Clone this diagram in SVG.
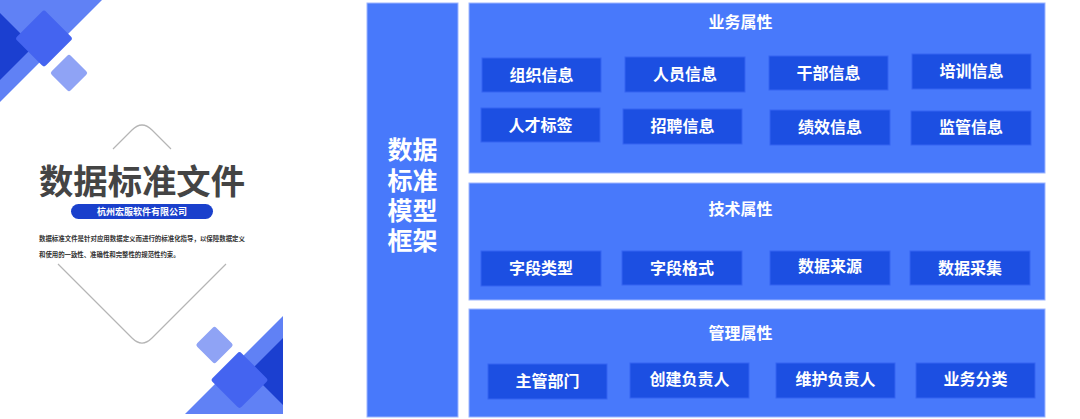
<svg xmlns="http://www.w3.org/2000/svg" width="1080" height="419" viewBox="0 0 1080 419">
<style>
.panel{fill:#4879fb;stroke:#9db6ff;stroke-width:1}
.box{fill:#1c4fe2;stroke:#3565f2;stroke-width:1}
.bt{font-family:"Liberation Serif","Noto Sans CJK SC",serif;font-weight:bold;font-size:16px;fill:#ffffff;text-anchor:middle}
.pt{font-family:"Liberation Serif","Noto Sans CJK SC",serif;font-weight:bold;font-size:16px;fill:#ffffff;text-anchor:middle}
.lt{font-family:"Liberation Serif","Noto Sans CJK SC",serif;font-weight:bold;font-size:25px;fill:#ffffff;text-anchor:middle}
.gray{fill:none;stroke:#b5b5b5;stroke-width:1.2}
</style>
<rect width="1080" height="419" fill="#ffffff"/>
<g id="cover">
  <polygon points="0,0 102,0 0,102" fill="#6081f5"/>
  <polygon points="0,13 33.5,46.5 0,80" fill="#1b3fd0"/>
  <rect x="23.5" y="18" width="41" height="41" rx="3" fill="#4464f0" transform="rotate(45 44 38.5)"/>
  <rect x="55.5" y="59.5" width="27" height="27" rx="2.5" fill="#8fa3f5" transform="rotate(45 69 73)"/>
  <polygon points="185,414 283,414 283,316" fill="#6081f5"/>
  <polygon points="283,338 249.5,371.5 283,405" fill="#1b3fd0"/>
  <rect x="219" y="359.5" width="41" height="41" rx="3" fill="#4464f0" transform="rotate(45 239.5 380)"/>
  <rect x="201" y="331.5" width="27" height="27" rx="2.5" fill="#8fa3f5" transform="rotate(45 214.5 345)"/>
  <path class="gray" d="M113,149 L132,130 Q142,120 152,130 L171,149"/>
  <path class="gray" d="M58,264 L132,338 Q142,348 152,338 L226,264"/>
  <text x="142" y="194" font-family="Liberation Serif,'Noto Sans CJK SC',serif" font-weight="bold" font-size="34" fill="#444444" text-anchor="middle" textLength="206" lengthAdjust="spacingAndGlyphs">数据标准文件</text>
  <rect x="71" y="204" width="142" height="15" rx="7.5" fill="#1a40cc"/>
  <text x="142" y="215" font-family="Liberation Serif,'Noto Sans CJK SC',serif" font-weight="bold" font-size="9" fill="#ffffff" text-anchor="middle">杭州宏服软件有限公司</text>
  <text x="39" y="240.5" font-family="Liberation Serif,'Noto Sans CJK SC',serif" font-weight="bold" font-size="6.4" fill="#333333" textLength="206" lengthAdjust="spacingAndGlyphs">数据标准文件是针对应用数据定义而进行的标准化指导，以保障数据定义</text>
  <text x="39" y="257" font-family="Liberation Serif,'Noto Sans CJK SC',serif" font-weight="bold" font-size="6.4" fill="#333333">和使用的一致性、准确性和完整性的规范性约束。</text>
</g>
<g id="framework">
  <rect class="panel" x="367" y="3" width="91" height="414"/>
  <text class="lt" x="412.5" y="159">数据</text>
  <text class="lt" x="412.5" y="190">标准</text>
  <text class="lt" x="412.5" y="220">模型</text>
  <text class="lt" x="412.5" y="250">框架</text>
</g>
<g id="business">
  <rect class="panel" x="469" y="3" width="576" height="170"/>
  <text class="pt" x="740.5" y="28">业务属性</text>
</g>
<g id="tech">
  <rect class="panel" x="469" y="183" width="576" height="117"/>
  <text class="pt" x="740.5" y="215">技术属性</text>
</g>
<g id="mgmt">
  <rect class="panel" x="469" y="309" width="576" height="108"/>
  <text class="pt" x="740.5" y="339">管理属性</text>
</g>
<g id="n-zuzhi"><rect class="box" x="482" y="58" width="119" height="34"/><text class="bt" x="541.5" y="81">组织信息</text></g>
<g id="n-renyuan"><rect class="box" x="625" y="57" width="120" height="35"/><text class="bt" x="685" y="80">人员信息</text></g>
<g id="n-ganbu"><rect class="box" x="769" y="56" width="119" height="34"/><text class="bt" x="828.5" y="79">干部信息</text></g>
<g id="n-peixun"><rect class="box" x="912" y="54" width="119" height="35"/><text class="bt" x="971.5" y="77">培训信息</text></g>
<g id="n-rencai"><rect class="box" x="481" y="108" width="119" height="34"/><text class="bt" x="540.5" y="131">人才标签</text></g>
<g id="n-zhaopin"><rect class="box" x="623" y="109" width="119" height="35"/><text class="bt" x="682.5" y="132">招聘信息</text></g>
<g id="n-jixiao"><rect class="box" x="770" y="110" width="120" height="35"/><text class="bt" x="830" y="133">绩效信息</text></g>
<g id="n-jianguan"><rect class="box" x="911" y="111" width="120" height="34"/><text class="bt" x="971" y="133">监管信息</text></g>
<g id="n-ziduanleixing"><rect class="box" x="481" y="251" width="120" height="35"/><text class="bt" x="541" y="274">字段类型</text></g>
<g id="n-ziduangeshi"><rect class="box" x="622" y="251" width="120" height="34"/><text class="bt" x="682" y="274">字段格式</text></g>
<g id="n-shujulaiyuan"><rect class="box" x="770" y="251" width="120" height="34"/><text class="bt" x="830" y="272">数据来源</text></g>
<g id="n-shujucaiji"><rect class="box" x="910" y="251" width="120" height="34"/><text class="bt" x="970" y="274">数据采集</text></g>
<g id="n-zhuguan"><rect class="box" x="488" y="364" width="119" height="35"/><text class="bt" x="547.5" y="387">主管部门</text></g>
<g id="n-chuangjian"><rect class="box" x="630" y="363" width="119" height="35"/><text class="bt" x="689.5" y="385">创建负责人</text></g>
<g id="n-weihu"><rect class="box" x="776" y="363" width="119" height="35"/><text class="bt" x="835.5" y="385">维护负责人</text></g>
<g id="n-yewufenlei"><rect class="box" x="916" y="363" width="119" height="35"/><text class="bt" x="975.5" y="385">业务分类</text></g>
<g id="connectors"></g>
</svg>
